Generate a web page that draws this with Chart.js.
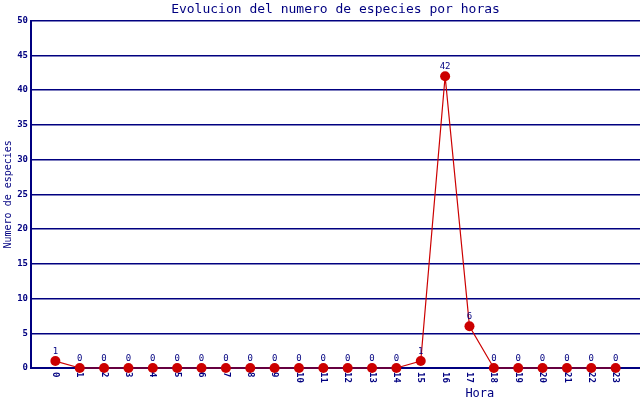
<!DOCTYPE html>
<html>
<head>
<meta charset="utf-8">
<script src="https://cdn.jsdelivr.net/npm/chart.js@4"></script>
<style>
  body { margin: 0; background: #fff; }
</style>
</head>
<body>
<canvas id="horasChart" width="640" height="400"></canvas>
<script>
// datos: especies observadas por hora
const horas = [0, 1, 2, 3, 4, 5, 6, 7, 8, 9, 10, 11, 12, 13, 14, 15, 16, 17, 18, 19, 20, 21, 22, 23];
const especies = [1, 0, 0, 0, 0, 0, 0, 0, 0, 0, 0, 0, 0, 0, 0, 1, 42, 6, 0, 0, 0, 0, 0, 0];
const yTicks = [0, 5, 10, 15, 20, 25, 30, 35, 40, 45, 50];

const navy = "#000080";
const mono = "'DejaVu Sans Mono', 'Liberation Mono', monospace";

// etiquetas de horas giradas, valores sobre los puntos y titulo del eje x
const extras = {
  id: "extras",
  afterDatasetsDraw(chart) {
    const ctx = chart.ctx;
    const xs = chart.scales.x;
    const area = chart.chartArea;
    ctx.save();
    ctx.fillStyle = navy;

    ctx.font = "9px " + mono;
    ctx.textAlign = "center";
    ctx.textBaseline = "bottom";
    chart.getDatasetMeta(0).data.forEach((pt, i) => {
      ctx.fillText(String(especies[i]), pt.x, pt.y - 5);
    });

    ctx.font = "bold 9px " + mono;
    horas.forEach(h => {
      ctx.save();
      ctx.translate(xs.getPixelForValue(h), area.bottom + 4);
      ctx.rotate(Math.PI / 2);
      ctx.textAlign = "left";
      ctx.textBaseline = "middle";
      ctx.fillText(String(h), 0, 0);
      ctx.restore();
    });

    ctx.font = "12px " + mono;
    ctx.textAlign = "center";
    ctx.textBaseline = "middle";
    ctx.fillText("Hora", area.left + (area.right - area.left) * 0.737, 394);
    ctx.restore();
  }
};

new Chart(document.getElementById("horasChart"), {
  type: "line",
  data: {
    datasets: [
      {
        label: "Especies",
        data: horas.map((h, i) => ({ x: h, y: especies[i] })),
        borderColor: "#cc0000",
        backgroundColor: "#cc0000",
        borderWidth: 1.2,
        pointRadius: 5,
        pointHoverRadius: 5,
        pointBorderWidth: 0,
        tension: 0,
        clip: false,
      },
    ],
  },
  options: {
    responsive: false,
    animation: false,
    layout: { padding: 0, autoPadding: false },
    plugins: {
      legend: { display: false },
      tooltip: { enabled: false },
      title: {
        display: true,
        text: "Evolucion del numero de especies por horas",
        color: navy,
        fullSize: false,
        font: { family: mono, size: 13, weight: "normal" },
        padding: { top: 2, bottom: 3 },
      },
    },
    scales: {
      x: {
        type: "linear",
        min: -1,
        max: 24,
        afterFit: s => { s.height = 32; },
        grid: { display: false, drawTicks: false },
        border: { color: navy, width: 2 },
        ticks: { display: false, stepSize: 1 },
      },
      y: {
        min: 0,
        max: 50,
        afterFit: s => { s.width = 31; },
        afterBuildTicks: s => { s.ticks = yTicks.map(v => ({ value: v })); },
        grid: { color: navy, lineWidth: 1.5, drawTicks: false },
        border: { color: navy, width: 2 },
        ticks: {
          color: navy,
          padding: 3,
          font: { family: mono, size: 9, weight: "bold" },
        },
        title: {
          display: true,
          text: "Numero de especies",
          color: navy,
          font: { family: mono, size: 10 },
          padding: { top: 2, bottom: 0 },
        },
      },
    },
  },
  plugins: [extras],
});
</script>
</body>
</html>
